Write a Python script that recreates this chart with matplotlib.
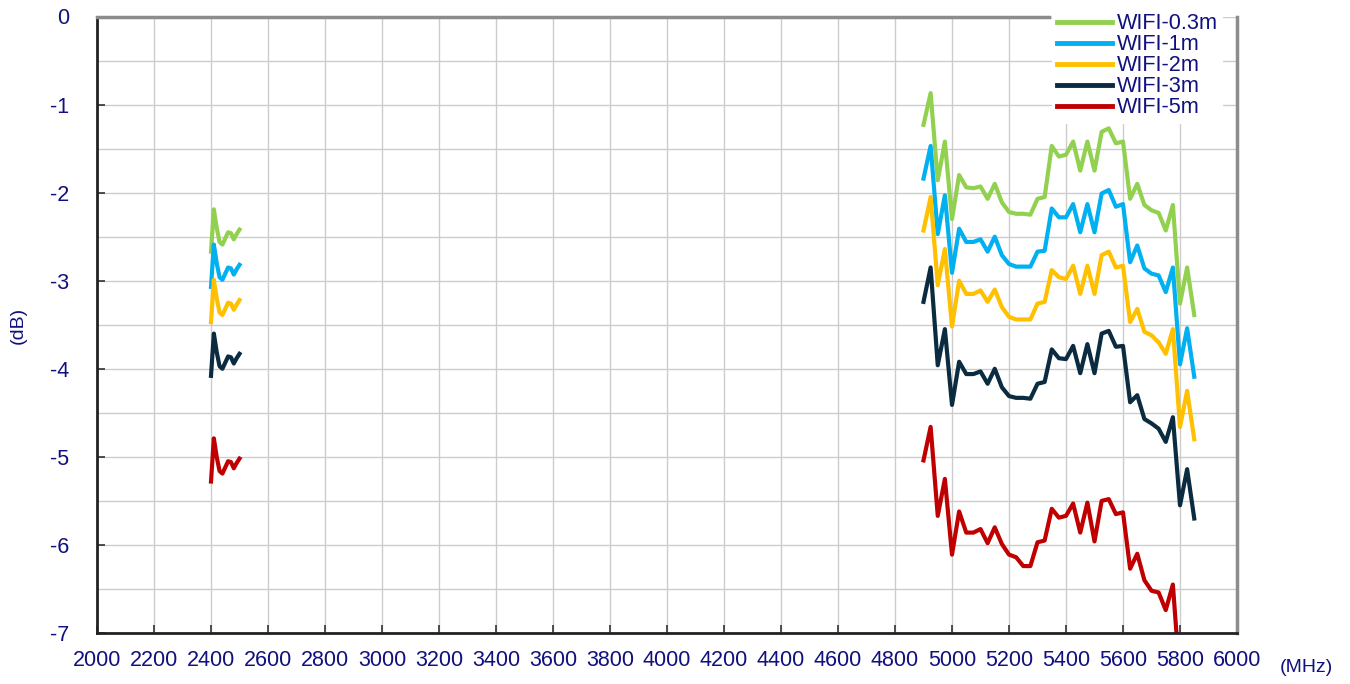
import matplotlib
matplotlib.use("Agg")
from matplotlib import pyplot as plt
from matplotlib.ticker import MultipleLocator

plt.rcParams["font.family"] = ["Liberation Sans", "DejaVu Sans"]

# 2.4 GHz band
freq_24 = [2400, 2410, 2420, 2430, 2440, 2450, 2460, 2470, 2480, 2490, 2500]
green_24 = [-2.67, -2.19, -2.40, -2.56, -2.59, -2.52, -2.45, -2.46, -2.53, -2.47, -2.42]
blue_24 = [-3.07, -2.59, -2.80, -2.96, -2.99, -2.92, -2.85, -2.86, -2.93, -2.87, -2.82]
orange_24 = [-3.47, -2.99, -3.20, -3.36, -3.39, -3.32, -3.25, -3.26, -3.33, -3.27, -3.22]
navy_24 = [-4.08, -3.60, -3.81, -3.97, -4.00, -3.93, -3.86, -3.87, -3.94, -3.88, -3.83]
red_24 = [-5.28, -4.79, -5.00, -5.16, -5.19, -5.12, -5.05, -5.06, -5.13, -5.07, -5.02]

# 5 GHz band
freq_5 = [4900, 4925, 4950, 4975, 5000, 5025, 5050, 5075, 5100, 5125,
          5150, 5175, 5200, 5225, 5250, 5275, 5300, 5325, 5350, 5375,
          5400, 5425, 5450, 5475, 5500, 5525, 5550, 5575, 5600, 5625,
          5650, 5675, 5700, 5725, 5750, 5775, 5800, 5825, 5850]
green_5 = [-1.23, -0.87, -1.86, -1.42, -2.30, -1.80, -1.94, -1.95, -1.93, -2.07,
           -1.90, -2.11, -2.22, -2.24, -2.24, -2.25, -2.07, -2.05, -1.47, -1.59,
           -1.57, -1.42, -1.75, -1.42, -1.75, -1.31, -1.27, -1.44, -1.42, -2.07,
           -1.90, -2.14, -2.20, -2.23, -2.43, -2.14, -3.26, -2.85, -3.39]
blue_5 = [-1.84, -1.47, -2.47, -2.03, -2.91, -2.41, -2.56, -2.56, -2.53, -2.67,
          -2.50, -2.71, -2.81, -2.84, -2.84, -2.84, -2.67, -2.66, -2.18, -2.28,
          -2.28, -2.13, -2.45, -2.13, -2.45, -2.01, -1.97, -2.16, -2.13, -2.79,
          -2.60, -2.86, -2.92, -2.94, -3.13, -2.85, -3.95, -3.54, -4.09]
orange_5 = [-2.43, -2.05, -3.05, -2.64, -3.52, -3.00, -3.15, -3.15, -3.11, -3.24,
            -3.10, -3.30, -3.41, -3.44, -3.44, -3.44, -3.26, -3.24, -2.88, -2.96,
            -2.98, -2.83, -3.15, -2.83, -3.15, -2.71, -2.67, -2.85, -2.83, -3.47,
            -3.32, -3.58, -3.62, -3.70, -3.83, -3.55, -4.66, -4.25, -4.80]
navy_5 = [-3.24, -2.85, -3.96, -3.55, -4.41, -3.92, -4.06, -4.06, -4.03, -4.17,
          -4.00, -4.21, -4.31, -4.33, -4.33, -4.34, -4.17, -4.15, -3.78, -3.88,
          -3.89, -3.74, -4.05, -3.72, -4.05, -3.60, -3.57, -3.75, -3.74, -4.38,
          -4.30, -4.57, -4.62, -4.68, -4.83, -4.55, -5.55, -5.14, -5.70]
red_5 = [-5.04, -4.66, -5.67, -5.25, -6.11, -5.62, -5.86, -5.86, -5.82, -5.98,
         -5.80, -5.99, -6.11, -6.14, -6.24, -6.24, -5.97, -5.95, -5.59, -5.69,
         -5.67, -5.53, -5.86, -5.52, -5.96, -5.50, -5.48, -5.65, -5.63, -6.27,
         -6.10, -6.40, -6.52, -6.54, -6.74, -6.45, -7.55, -7.03, -7.60]

labels = ["WIFI-0.3m", "WIFI-1m", "WIFI-2m", "WIFI-3m", "WIFI-5m"]
colors = ["#92D050", "#00B0F0", "#FFC000", "#0B2B40", "#C00000"]
series_24 = [green_24, blue_24, orange_24, navy_24, red_24]
series_5 = [green_5, blue_5, orange_5, navy_5, red_5]

x_ticks = list(range(2000, 6001, 200))
y_ticks = [-7, -6, -5, -4, -3, -2, -1, 0]

text_color = "#10107F"

fig = plt.figure(figsize=(13.5, 6.84), dpi=100)
ax = fig.add_axes([97 / 1350, 1 - 633 / 684, 1140 / 1350, 616.5 / 684])

for lab, col, y24, y5 in zip(labels, colors, series_24, series_5):
    ax.plot(freq_24, y24, color=col, lw=3.0, solid_joinstyle="round")
    ax.plot(freq_5, y5, color=col, lw=3.0, solid_joinstyle="round", label=lab)

ax.set_xlim(2000, 6000)
ax.set_ylim(-7, 0)
ax.set_xticks(x_ticks)
ax.set_yticks(y_ticks)
ax.set_yticklabels([str(v) for v in y_ticks])
ax.yaxis.set_minor_locator(MultipleLocator(0.5))
ax.grid(True, which="both", color="#CCCCCC", lw=1.0)
ax.set_axisbelow(True)

ax.tick_params(axis="x", direction="in", length=6, width=1.2, color="#333333",
               labelsize=15.5, labelcolor=text_color, pad=12)
ax.tick_params(axis="y", direction="in", length=6, width=1.2, color="#333333",
               labelsize=15.5, labelcolor=text_color, pad=20)
ax.tick_params(axis="y", which="minor", length=0)

for side in ["left", "bottom"]:
    ax.spines[side].set_color("#222222")
    ax.spines[side].set_linewidth(2)
for side in ["top", "right"]:
    ax.spines[side].set_color("#8C8C8C")
    ax.spines[side].set_linewidth(2.5)
# the legend box hides the top border on the right
ax.spines["top"].set_bounds(2000, 5340)

fig.text(18 / 1350, 1 - 325 / 684, "(dB)", rotation=90, ha="center", va="center",
         fontsize=14, color=text_color)
fig.text(1306 / 1350, 1 - 667 / 684, "(MHz)", ha="center", va="center",
         fontsize=14, color=text_color)

leg = ax.legend(loc="upper left", bbox_to_anchor=(1052 / 1350, 1 - 8 / 684),
                bbox_transform=fig.transFigure, fontsize=15.6, frameon=True,
                facecolor="white", edgecolor="none", framealpha=1, fancybox=False,
                handlelength=2.5, handletextpad=0.25, labelspacing=0.0,
                borderpad=0.25, borderaxespad=0)
for t in leg.get_texts():
    t.set_color(text_color)
for h in leg.get_lines():
    h.set_linewidth(3.5)

fig.savefig("out.png", dpi=100)
